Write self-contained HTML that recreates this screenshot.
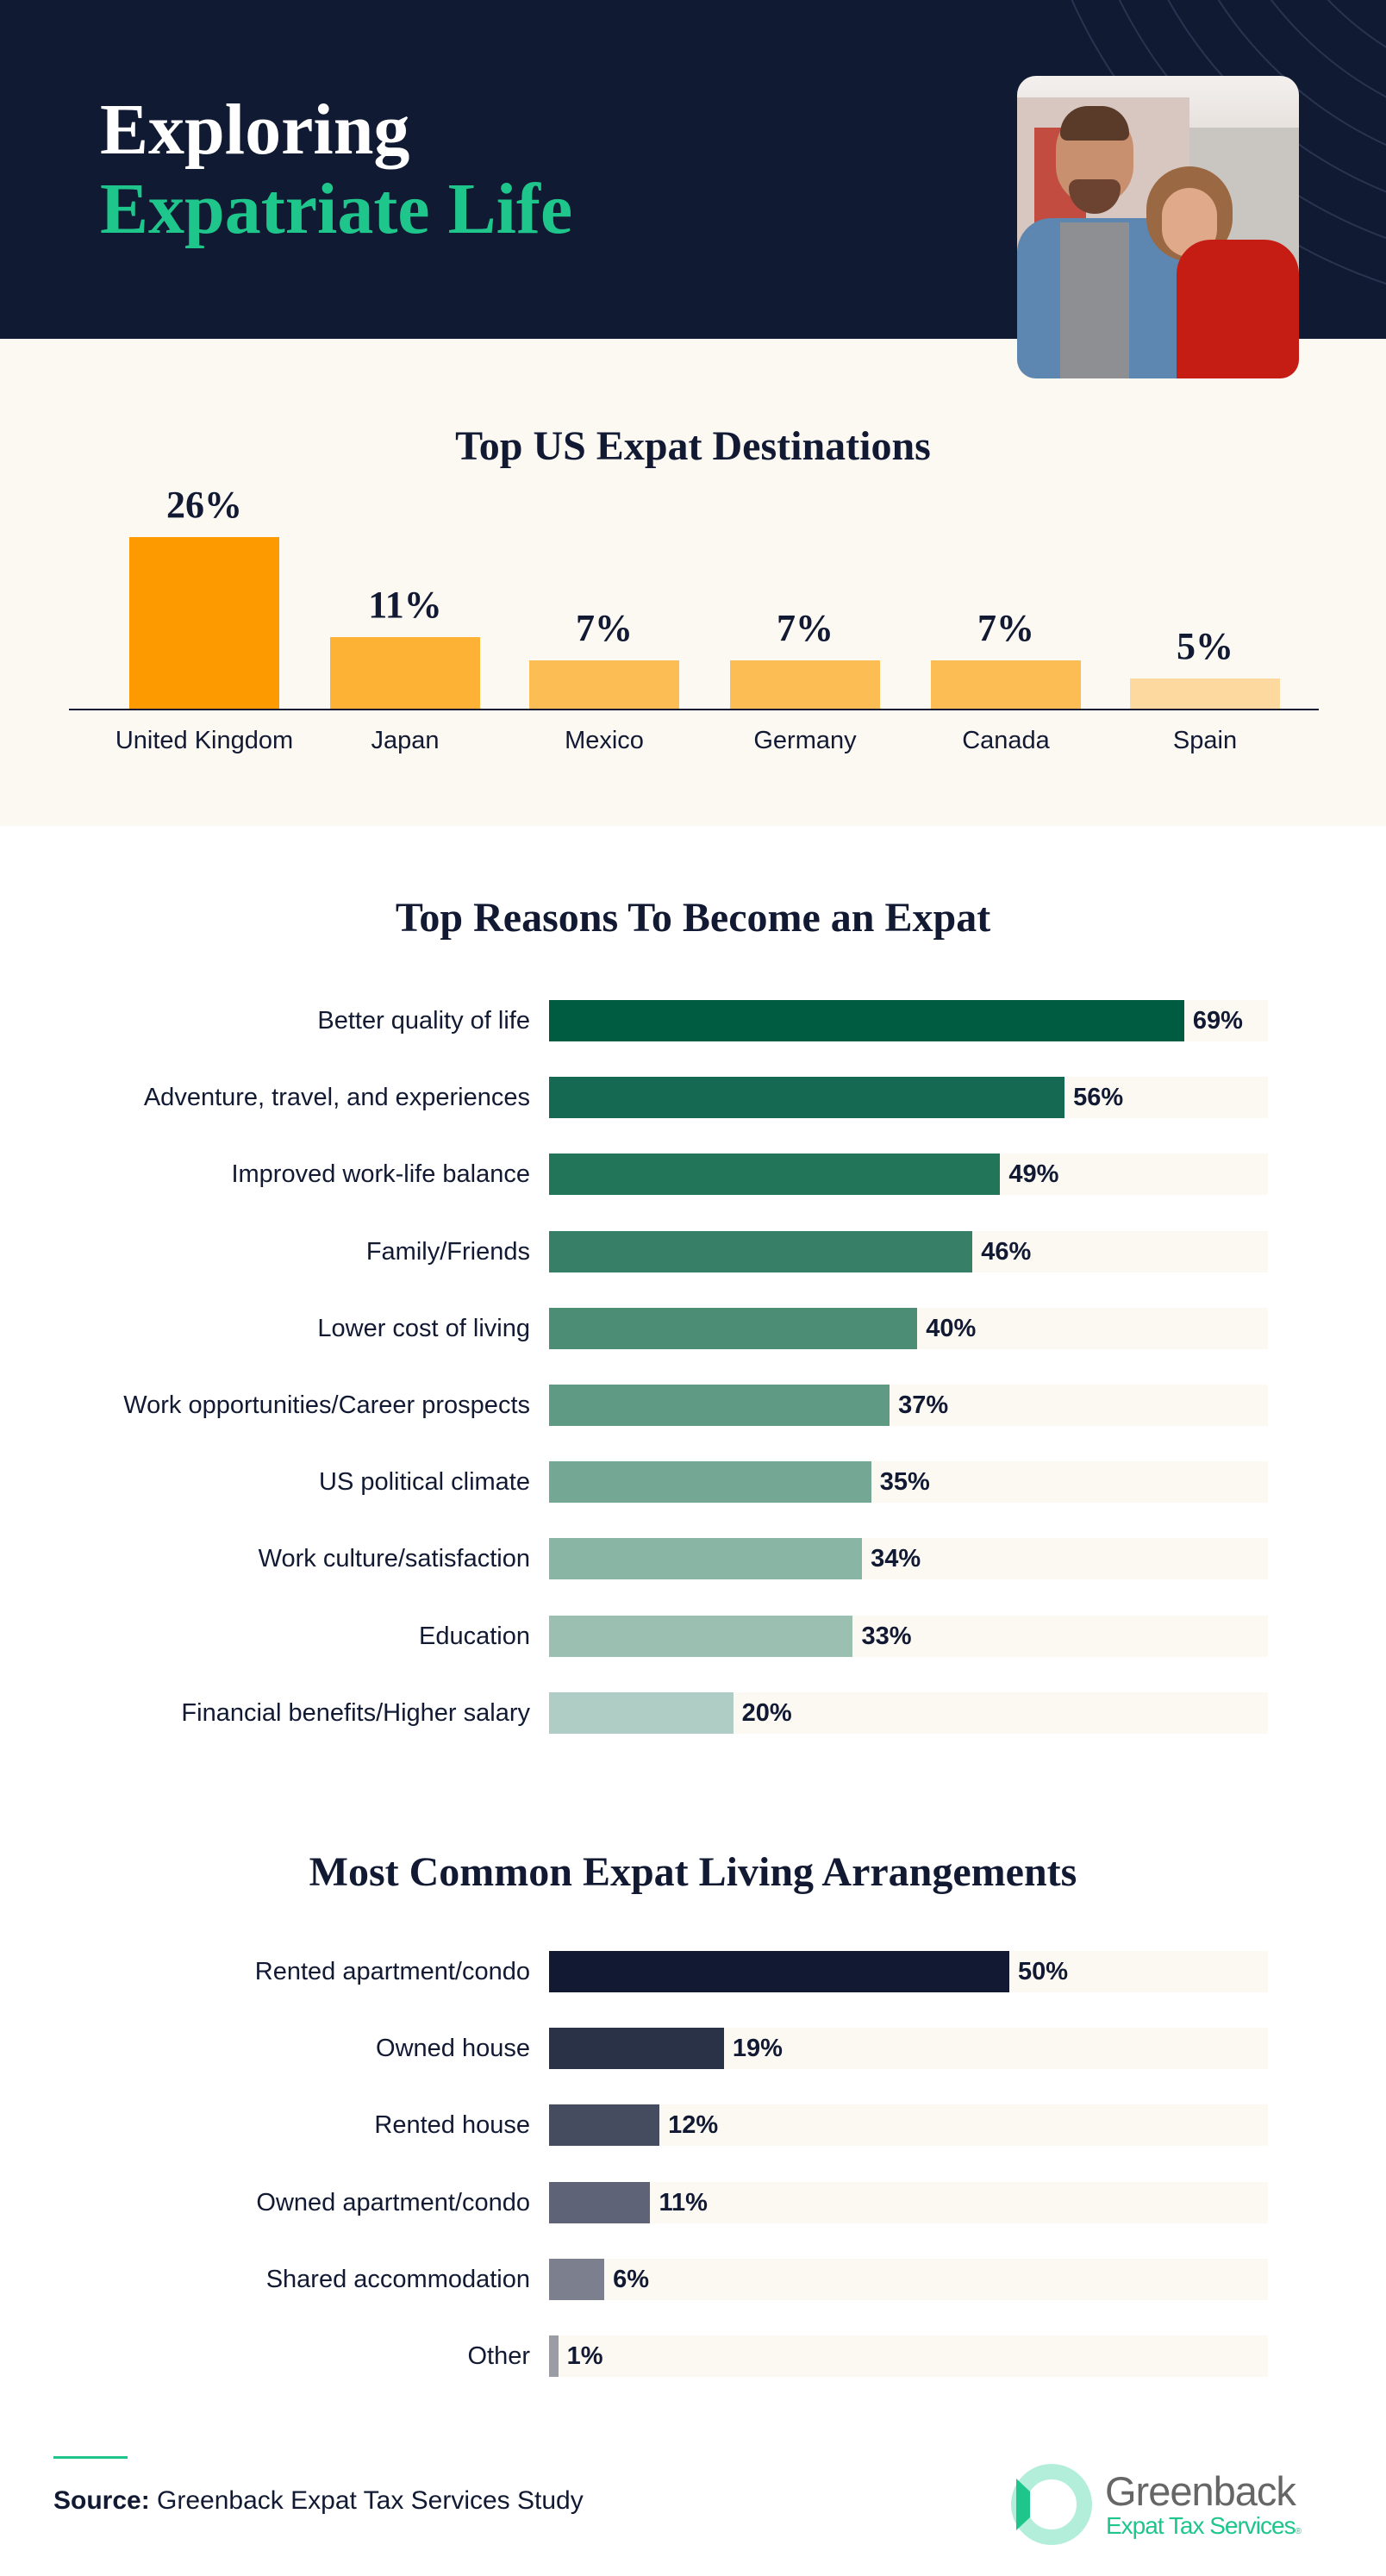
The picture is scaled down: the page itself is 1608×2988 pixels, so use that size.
<!DOCTYPE html>
<html><head><meta charset="utf-8"><style>
*{margin:0;padding:0;box-sizing:border-box}
body{width:1608px;height:2988px;position:relative;background:#fff;font-family:"Liberation Sans",sans-serif;color:#121a33;overflow:hidden}
.a{position:absolute}
.serif{font-family:"Liberation Serif",serif;font-weight:bold}
.lbl{position:absolute;right:993px;font-size:29px;text-align:right;white-space:nowrap;line-height:48px;color:#121a33}
.track{position:absolute;left:637px;width:834px;height:48px;background:#fcf9f3}
.bar{position:absolute;left:637px;height:48px}
.val{position:absolute;font-size:29px;font-weight:bold;line-height:48px}
.cl{position:absolute;width:260px;text-align:center;font-size:29px;top:843px}
.cv{position:absolute;width:260px;text-align:center;font-size:44px;font-family:"Liberation Serif",serif;font-weight:bold}
</style></head><body>
<div class="a" style="left:0;top:0;width:1608px;height:393px;background:#111a33;overflow:hidden">
<svg width="1608" height="393" style="position:absolute;left:0;top:0">
<g fill="none" stroke="#2a3350" stroke-width="2">
<circle cx="1800" cy="-250" r="310"/><circle cx="1800" cy="-250" r="360"/><circle cx="1800" cy="-250" r="410"/><circle cx="1800" cy="-250" r="460"/><circle cx="1800" cy="-250" r="510"/><circle cx="1800" cy="-250" r="560"/><circle cx="1800" cy="-250" r="610"/>
</g></svg>
<div class="a serif" style="left:116px;top:106px;font-size:84px;color:#fff;line-height:90px">Exploring</div>
<div class="a serif" style="left:116px;top:198px;font-size:84px;color:#1fc68c;line-height:90px">Expatriate Life</div>
</div>
<div class="a" style="left:0;top:393px;width:1608px;height:565px;background:#fcf9f3"></div>
<div class="a" style="left:1180px;top:88px;width:327px;height:351px;border-radius:22px;overflow:hidden;background:linear-gradient(180deg,#f3f0ee 0%,#d9cfc8 40%,#c9b8a8 100%)">
<div class="a" style="left:0;top:25px;width:200px;height:230px;background:#d8c6c0"></div>
<div class="a" style="left:20px;top:60px;width:60px;height:120px;background:#c24c3f"></div>
<div class="a" style="left:200px;top:60px;width:127px;height:200px;background:#c9c6c2"></div>
<div class="a" style="left:45px;top:40px;width:90px;height:110px;border-radius:45px;background:#c8906f"></div>
<div class="a" style="left:50px;top:35px;width:80px;height:40px;border-radius:40px 40px 10px 10px;background:#5a3a28"></div>
<div class="a" style="left:60px;top:120px;width:60px;height:40px;border-radius:10px 10px 30px 30px;background:#6b4330"></div>
<div class="a" style="left:0;top:165px;width:205px;height:190px;border-radius:40px 40px 0 0;background:#5d87b0"></div>
<div class="a" style="left:50px;top:170px;width:80px;height:190px;background:#8e8f93"></div>
<div class="a" style="left:150px;top:105px;width:100px;height:110px;border-radius:50px;background:#9a6842"></div>
<div class="a" style="left:168px;top:130px;width:64px;height:80px;border-radius:32px;background:#e0a98a"></div>
<div class="a" style="left:185px;top:190px;width:142px;height:170px;border-radius:40px 40px 0 0;background:#c51c14"></div>
</div>
<div class="a serif" style="left:0;width:1608px;text-align:center;top:490px;font-size:48px">Top US Expat Destinations</div>
<div class="a" style="left:150px;top:623px;width:174px;height:200px;background:#fd9a00"></div>
<div class="a" style="left:383px;top:739px;width:174px;height:84px;background:#fdb135"></div>
<div class="a" style="left:614px;top:766px;width:174px;height:57px;background:#fdbd55"></div>
<div class="a" style="left:847px;top:766px;width:174px;height:57px;background:#fdbd55"></div>
<div class="a" style="left:1080px;top:766px;width:174px;height:57px;background:#fdbd55"></div>
<div class="a" style="left:1311px;top:787px;width:174px;height:36px;background:#fdd9a0"></div>
<div class="a" style="left:80px;top:822px;width:1450px;height:2px;background:#121a33"></div>
<div class="cv" style="left:107px;top:560px">26%</div>
<div class="cv" style="left:340px;top:676px">11%</div>
<div class="cv" style="left:571px;top:703px">7%</div>
<div class="cv" style="left:804px;top:703px">7%</div>
<div class="cv" style="left:1037px;top:703px">7%</div>
<div class="cv" style="left:1268px;top:724px">5%</div>
<div class="cl" style="left:107px">United Kingdom</div>
<div class="cl" style="left:340px">Japan</div>
<div class="cl" style="left:571px">Mexico</div>
<div class="cl" style="left:804px">Germany</div>
<div class="cl" style="left:1037px">Canada</div>
<div class="cl" style="left:1268px">Spain</div>

<div class="a serif" style="left:0;width:1608px;text-align:center;top:1037px;font-size:48px">Top Reasons To Become an Expat</div>
<div id="r"></div>
<div class="a serif" style="left:0;width:1608px;text-align:center;top:2144px;font-size:48px">Most Common Expat Living Arrangements</div>

<div class="a" style="left:62px;top:2849px;width:86px;height:3px;background:#1fc68c"></div>
<div class="a" style="left:62px;top:2884px;font-size:30px"><b>Source:</b> Greenback Expat Tax Services Study</div>
<svg class="a" style="left:1165px;top:2855px" width="110" height="100">
<circle cx="55" cy="50" r="38" fill="none" stroke="#b3eedb" stroke-width="18"/>
<path d="M14 20 L14 80 L30 65 L30 35 Z" fill="#1fc68c"/>
</svg>
<div class="a" style="left:1282px;top:2862px;font-size:47px;color:#666;letter-spacing:-1px">Greenback</div>
<div class="a" style="left:1283px;top:2914px;font-size:28px;color:#1fc68c;letter-spacing:-1px">Expat Tax Services<span style="font-size:10px">®</span></div>
<script>
var r=[["Better quality of life",69,"#005c41"],["Adventure, travel, and experiences",56,"#156852"],["Improved work-life balance",49,"#237559"],["Family/Friends",46,"#377f67"],["Lower cost of living",40,"#4b8d75"],["Work opportunities/Career prospects",37,"#5f9a84"],["US political climate",35,"#74a794"],["Work culture/satisfaction",34,"#88b5a4"],["Education",33,"#9bc0b2"],["Financial benefits/Higher salary",20,"#afcdc4"]];
var l=[["Rented apartment/condo",50,"#121a33"],["Owned house",19,"#2a3248"],["Rented house",12,"#464c60"],["Owned apartment/condo",11,"#5e6377"],["Shared accommodation",6,"#7b7f8e"],["Other",1,"#9a9ca6"]];
var h="";
function g(d,y0){d.forEach(function(e,i){var y=y0+i*89.2,w=Math.max(e[1]*10.68,9);
h+='<div class="track" style="top:'+y+'px"></div><div class="bar" style="top:'+y+'px;width:'+w+'px;background:'+e[2]+'"></div><div class="lbl" style="top:'+y+'px">'+e[0]+'</div><div class="val" style="top:'+y+'px;left:'+(637+w+10)+'px">'+e[1]+'%</div>';});}
g(r,1160);g(l,2263);
document.getElementById("r").innerHTML=h;
</script>
</body></html>
